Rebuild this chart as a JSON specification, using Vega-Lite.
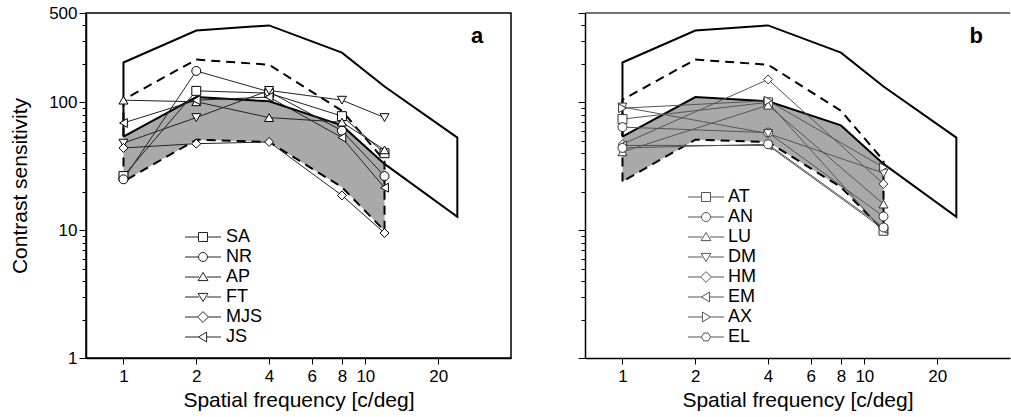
{
  "$schema": "https://vega.github.io/schema/vega-lite/v6.json",
  "background": "white",
  "padding": {"left": 8, "top": 3, "right": 0, "bottom": 0},
  "config": {
    "font": "Liberation Sans",
    "view": {"stroke": "black", "strokeWidth": 1.5},
    "axis": {
      "domainColor": "black", "domainWidth": 1.5, "tickColor": "black", "tickWidth": 1,
      "labelColor": "black", "titleColor": "black", "grid": false,
      "labelFont": "Liberation Sans", "titleFont": "Liberation Sans", "titleFontWeight": "normal",
      "labelFontSize": 17, "titleFontSize": 21, "labelOverlap": false, "labelFlush": false
    }
  },
  "datasets": {
    "outer": [
      {"sf": 1, "cs": 54, "o": 0}, {"sf": 1, "cs": 205, "o": 1}, {"sf": 2, "cs": 365, "o": 2},
      {"sf": 4, "cs": 400, "o": 3}, {"sf": 8, "cs": 245, "o": 4}, {"sf": 12, "cs": 133, "o": 5},
      {"sf": 24, "cs": 53, "o": 6}, {"sf": 24, "cs": 12.7, "o": 7}, {"sf": 12, "cs": 33, "o": 8},
      {"sf": 8, "cs": 66, "o": 9}, {"sf": 4, "cs": 102, "o": 10}, {"sf": 2, "cs": 110, "o": 11},
      {"sf": 1, "cs": 54, "o": 12}
    ],
    "inner": [
      {"sf": 1, "cs": 24, "o": 0}, {"sf": 1, "cs": 105, "o": 1}, {"sf": 2, "cs": 216, "o": 2},
      {"sf": 4, "cs": 197, "o": 3}, {"sf": 8, "cs": 86, "o": 4}, {"sf": 12, "cs": 35, "o": 5},
      {"sf": 12, "cs": 9.9, "o": 6}, {"sf": 8, "cs": 21.7, "o": 7}, {"sf": 4, "cs": 49, "o": 8},
      {"sf": 2, "cs": 51, "o": 9}, {"sf": 1, "cs": 24, "o": 10}
    ],
    "gray": [
      {"sf": 1, "cs": 24, "cs2": 54}, {"sf": 2, "cs": 51, "cs2": 110}, {"sf": 4, "cs": 49, "cs2": 102},
      {"sf": 8, "cs": 21.7, "cs2": 66}, {"sf": 12, "cs": 9.9, "cs2": 33}
    ],
    "subjA": [
      {"subject": "SA", "sf": 1, "cs": 26.5}, {"subject": "SA", "sf": 2, "cs": 123}, {"subject": "SA", "sf": 4, "cs": 118}, {"subject": "SA", "sf": 8, "cs": 78}, {"subject": "SA", "sf": 12, "cs": 40},
      {"subject": "NR", "sf": 1, "cs": 25}, {"subject": "NR", "sf": 2, "cs": 176}, {"subject": "NR", "sf": 4, "cs": 121}, {"subject": "NR", "sf": 8, "cs": 60}, {"subject": "NR", "sf": 12, "cs": 26.5},
      {"subject": "AP", "sf": 1, "cs": 104}, {"subject": "AP", "sf": 2, "cs": 101}, {"subject": "AP", "sf": 4, "cs": 76}, {"subject": "AP", "sf": 8, "cs": 70}, {"subject": "AP", "sf": 12, "cs": 42.5},
      {"subject": "FT", "sf": 1, "cs": 48}, {"subject": "FT", "sf": 2, "cs": 76}, {"subject": "FT", "sf": 4, "cs": 124}, {"subject": "FT", "sf": 8, "cs": 104}, {"subject": "FT", "sf": 12, "cs": 76},
      {"subject": "MJS", "sf": 1, "cs": 44}, {"subject": "MJS", "sf": 2, "cs": 47.5}, {"subject": "MJS", "sf": 4, "cs": 49}, {"subject": "MJS", "sf": 8, "cs": 18.7}, {"subject": "MJS", "sf": 12, "cs": 9.5},
      {"subject": "JS", "sf": 1, "cs": 69}, {"subject": "JS", "sf": 2, "cs": 104}, {"subject": "JS", "sf": 4, "cs": 110}, {"subject": "JS", "sf": 8, "cs": 53}, {"subject": "JS", "sf": 12, "cs": 21.5}
    ],
    "subjB": [
      {"subject": "AT", "sf": 1, "cs": 74}, {"subject": "AT", "sf": 4, "cs": 100}, {"subject": "AT", "sf": 12, "cs": 9.9},
      {"subject": "AN", "sf": 1, "cs": 64}, {"subject": "AN", "sf": 4, "cs": 58}, {"subject": "AN", "sf": 12, "cs": 12.8},
      {"subject": "LU", "sf": 1, "cs": 41}, {"subject": "LU", "sf": 4, "cs": 95}, {"subject": "LU", "sf": 12, "cs": 16},
      {"subject": "DM", "sf": 1, "cs": 92}, {"subject": "DM", "sf": 4, "cs": 57}, {"subject": "DM", "sf": 12, "cs": 28},
      {"subject": "HM", "sf": 1, "cs": 47}, {"subject": "HM", "sf": 4, "cs": 151}, {"subject": "HM", "sf": 12, "cs": 23},
      {"subject": "EM", "sf": 1, "cs": 46}, {"subject": "EM", "sf": 4, "cs": 46}, {"subject": "EM", "sf": 12, "cs": 10.2},
      {"subject": "AX", "sf": 1, "cs": 90}, {"subject": "AX", "sf": 4, "cs": 103}, {"subject": "AX", "sf": 12, "cs": 31},
      {"subject": "EL", "sf": 1, "cs": 44}, {"subject": "EL", "sf": 4, "cs": 47}, {"subject": "EL", "sf": 12, "cs": 10.5}
    ]
  },
  "spacing": 65,
  "resolve": {"scale": {"shape": "independent"}, "legend": {"shape": "independent"}},
  "hconcat": [
    {
      "width": 425, "height": 345,
      "encoding": {
        "x": {"field": "sf", "type": "quantitative",
          "scale": {"type": "log", "domain": [0.7, 40], "nice": false, "zero": false},
          "axis": {"values": [1, 2, 4, 6, 8, 10, 20], "format": "d", "title": "Spatial frequency [c/deg]", "tickSize": 6, "labelPadding": 4, "titlePadding": 5}},
        "y": {"field": "cs", "type": "quantitative",
          "scale": {"type": "log", "domain": [1, 500], "nice": false, "zero": false},
          "axis": {"values": [1, 2, 3, 4, 5, 6, 7, 8, 9, 10, 20, 30, 40, 50, 60, 70, 80, 90, 100, 200, 300, 400, 500],
            "labelExpr": "indexof([1,10,100,500], datum.value) >= 0 ? format(datum.value, 'd') : ''",
            "tickSize": {"condition": {"test": "indexof([1,10,100,500], datum.value) >= 0", "value": 7}, "value": 4},
            "labelPadding": 2, "title": "Contrast sensitivity", "titlePadding": 18}}
      },
      "layer": [
        {"data": {"name": "gray"}, "mark": {"type": "area", "color": "#a9a9a9"}, "encoding": {"y2": {"field": "cs2"}}},
        {"data": {"name": "outer"}, "mark": {"type": "line", "color": "black", "strokeWidth": 2}, "encoding": {"order": {"field": "o"}}},
        {"data": {"name": "inner"}, "mark": {"type": "line", "color": "black", "strokeWidth": 2, "strokeDash": [9, 6]}, "encoding": {"order": {"field": "o"}}},
        {"data": {"name": "subjA"}, "mark": {"type": "line", "color": "#222", "strokeWidth": 1}, "encoding": {"detail": {"field": "subject"}}},
        {"data": {"name": "subjA"}, "mark": {"type": "point", "filled": true, "fill": "white", "stroke": "black", "strokeWidth": 1, "size": 80, "opacity": 1},
          "encoding": {"shape": {"field": "subject", "scale": {"domain": ["SA", "NR", "AP", "FT", "MJS", "JS"], "range": ["square", "circle", "triangle-up", "triangle-down", "diamond", "triangle-left"]}, "legend": null}}},
        {"data": {"name": "subjA"}, "transform": [{"filter": "false"}],
          "mark": {"type": "point", "filled": true, "fill": "white", "stroke": "#222", "strokeWidth": 1, "opacity": 1},
          "encoding": {"shape": {"field": "subject",
            "scale": {"domain": ["SA", "NR", "AP", "FT", "MJS", "JS"],
              "range": [
                "M-4,0H-1M1,0H4M-1,-1H1V1H-1Z",
                "M-4,0H-1M1,0H4M1,0A1,1,0,1,1,-1,0A1,1,0,1,1,1,0Z",
                "M-4,0H-0.9M0.9,0H4M0,-1L1.1,0.8L-1.1,0.8Z",
                "M-4,0H-0.9M0.9,0H4M0,1L1.1,-0.8L-1.1,-0.8Z",
                "M-4,0H-1.2M1.2,0H4M0,-1.2L1.2,0L0,1.2L-1.2,0Z",
                "M-4,0H-1M0.8,0H4M-1,0L0.8,-1.1L0.8,1.1Z"
              ]},
            "legend": {"orient": "none", "legendX": 108, "legendY": 215, "title": null, "padding": 0,
              "symbolSize": 81, "symbolStrokeWidth": 1, "labelFontSize": 18, "labelFont": "Liberation Sans", "labelColor": "black",
              "labelOffset": 14, "rowPadding": 2, "symbolOpacity": 1}}}},
        {"data": {"values": [{"sf": 29, "cs": 330, "t": "a"}]}, "mark": {"type": "text", "fontSize": 22, "fontWeight": "bold", "color": "black", "baseline": "middle"}, "encoding": {"text": {"field": "t"}}}
      ],
      "resolve": {"scale": {"shape": "independent"}}
    },
    {
      "width": 425, "height": 345,
      "view": {"stroke": null},
      "encoding": {
        "x": {"field": "sf", "type": "quantitative",
          "scale": {"type": "log", "domain": [0.7, 40], "nice": false, "zero": false},
          "axis": {"values": [1, 2, 4, 6, 8, 10, 20], "format": "d", "title": "Spatial frequency [c/deg]", "tickSize": 6, "labelPadding": 4, "titlePadding": 5}},
        "y": {"field": "cs", "type": "quantitative",
          "scale": {"type": "log", "domain": [1, 500], "nice": false, "zero": false},
          "axis": {"values": [1, 2, 3, 4, 5, 6, 7, 8, 9, 10, 20, 30, 40, 50, 60, 70, 80, 90, 100, 200, 300, 400, 500],
            "labels": false,
            "tickSize": {"condition": {"test": "indexof([1,10,100,500], datum.value) >= 0", "value": 7}, "value": 4},
            "title": null}}
      },
      "layer": [
        {"data": {"name": "gray"}, "mark": {"type": "area", "color": "#a9a9a9"}, "encoding": {"y2": {"field": "cs2"}}},
        {"data": {"values": [{"sf": 0.7, "sf2": 40, "cs": 500}]}, "mark": {"type": "rule", "color": "#444", "strokeWidth": 1.5}, "encoding": {"x2": {"field": "sf2"}}},
        {"data": {"name": "outer"}, "mark": {"type": "line", "color": "black", "strokeWidth": 2}, "encoding": {"order": {"field": "o"}}},
        {"data": {"name": "inner"}, "mark": {"type": "line", "color": "black", "strokeWidth": 2, "strokeDash": [9, 6]}, "encoding": {"order": {"field": "o"}}},
        {"data": {"name": "subjB"}, "mark": {"type": "line", "color": "#555", "strokeWidth": 1}, "encoding": {"detail": {"field": "subject"}}},
        {"data": {"name": "subjB"}, "mark": {"type": "point", "filled": true, "fill": "white", "stroke": "#333", "strokeWidth": 1, "size": 80, "opacity": 1},
          "encoding": {"shape": {"field": "subject", "scale": {"domain": ["AT", "AN", "LU", "DM", "HM", "EM", "AX", "EL"], "range": ["square", "circle", "triangle-up", "triangle-down", "diamond", "triangle-left", "triangle-right", "circle"]}, "legend": null}}},
        {"data": {"name": "subjB"}, "transform": [{"filter": "false"}],
          "mark": {"type": "point", "filled": true, "fill": "white", "stroke": "#555", "strokeWidth": 1, "opacity": 1},
          "encoding": {"shape": {"field": "subject",
            "scale": {"domain": ["AT", "AN", "LU", "DM", "HM", "EM", "AX", "EL"],
              "range": [
                "M-4,0H-1M1,0H4M-1,-1H1V1H-1Z",
                "M-4,0H-1M1,0H4M1,0A1,1,0,1,1,-1,0A1,1,0,1,1,1,0Z",
                "M-4,0H-0.9M0.9,0H4M0,-1L1.1,0.8L-1.1,0.8Z",
                "M-4,0H-0.9M0.9,0H4M0,1L1.1,-0.8L-1.1,-0.8Z",
                "M-4,0H-1.2M1.2,0H4M0,-1.2L1.2,0L0,1.2L-1.2,0Z",
                "M-4,0H-1M0.8,0H4M-1,0L0.8,-1.1L0.8,1.1Z",
                "M-4,0H-0.8M1,0H4M1,0L-0.8,-1.1L-0.8,1.1Z",
                "M-4,0H-1M1,0H4M1,0L0.5,0.87L-0.5,0.87L-1,0L-0.5,-0.87L0.5,-0.87Z"
              ]},
            "legend": {"orient": "none", "legendX": 112, "legendY": 175, "title": null, "padding": 0,
              "symbolSize": 81, "symbolStrokeWidth": 1, "labelFontSize": 18, "labelFont": "Liberation Sans", "labelColor": "black",
              "labelOffset": 13, "rowPadding": 2, "symbolOpacity": 1}}}},
        {"data": {"values": [{"sf": 29, "cs": 330, "t": "b"}]}, "mark": {"type": "text", "fontSize": 22, "fontWeight": "bold", "color": "black", "baseline": "middle"}, "encoding": {"text": {"field": "t"}}}
      ],
      "resolve": {"scale": {"shape": "independent"}}
    }
  ]
}
